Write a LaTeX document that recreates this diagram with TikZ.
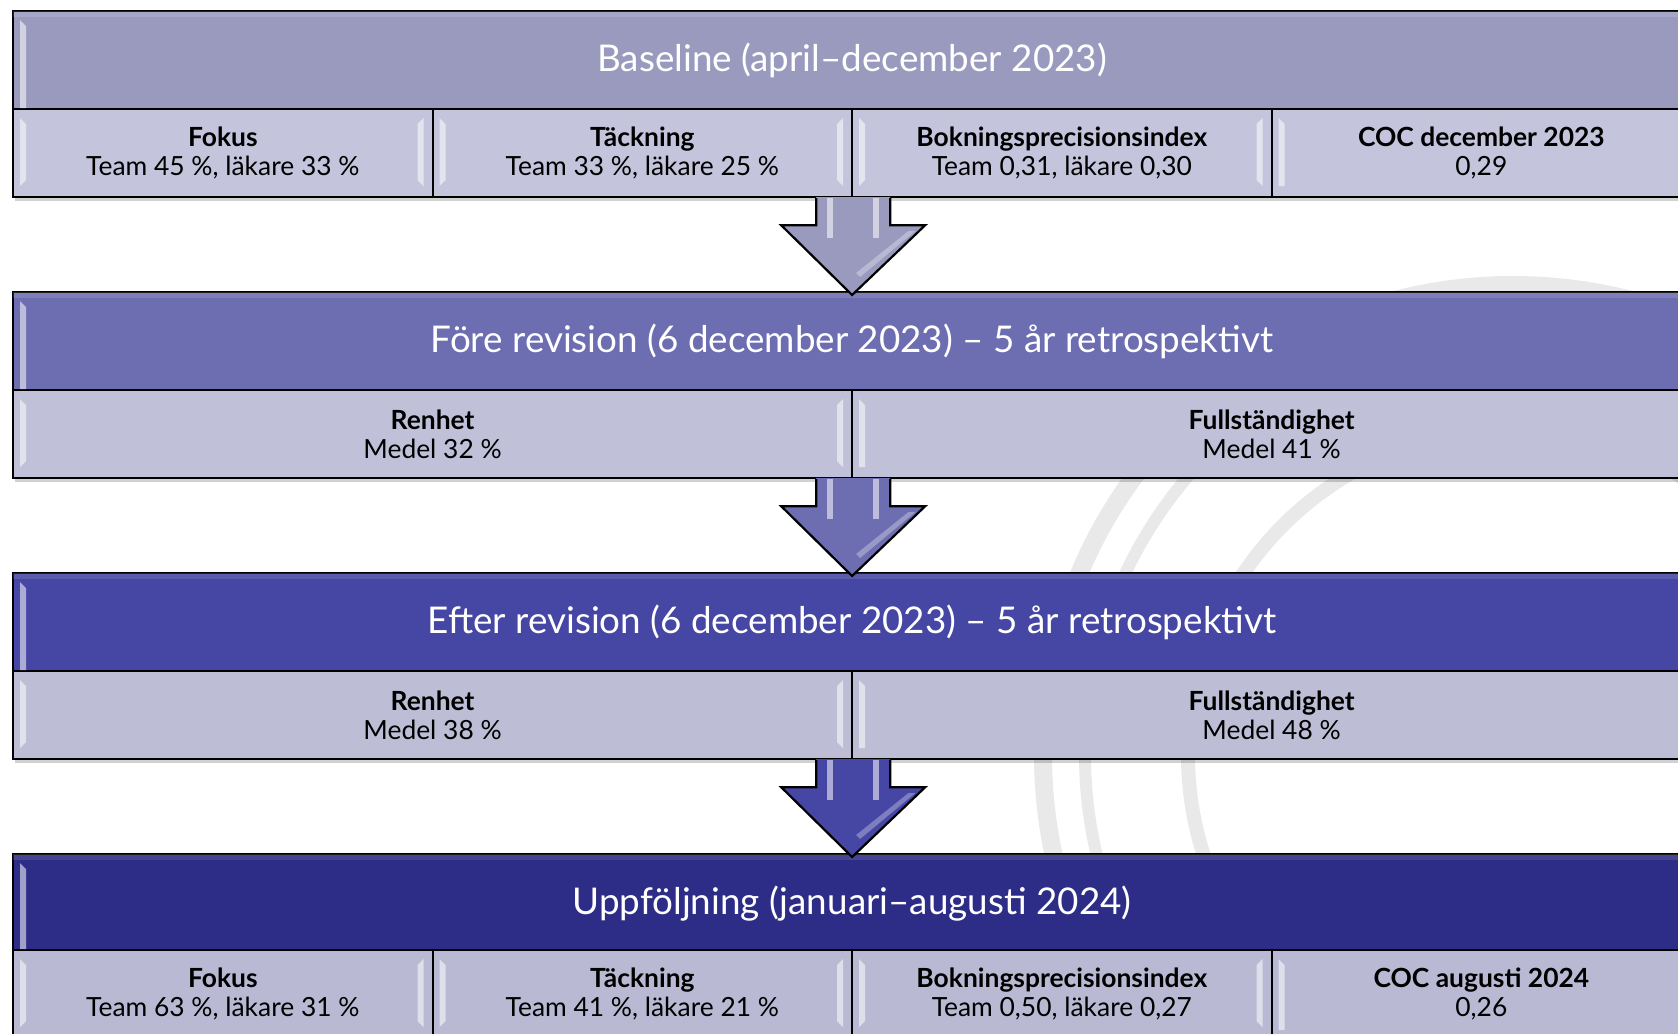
\documentclass[tikz,border=0pt]{standalone}
\usepackage{fontspec}
\setmainfont{Lato}
\usetikzlibrary{calc}
\definecolor{hA}{HTML}{9A9ABF}
\definecolor{hB}{HTML}{6D6DB1}
\definecolor{hC}{HTML}{4646A5}
\definecolor{hD}{HTML}{2D2D87}
\definecolor{cellA}{HTML}{C4C4DC}
\definecolor{cellB}{HTML}{C0C0D9}
\definecolor{cellC}{HTML}{BDBDD6}
\definecolor{cellD}{HTML}{B9B9D3}
\definecolor{seal}{HTML}{E9E9E9}
\tikzset{
  hdr/.style={draw=black, line width=1.1pt, text=white, anchor=north west, inner sep=0pt,
    minimum width=839pt, minimum height=49pt, font=\fontsize{18.4}{22}\selectfont},
  cellq/.style={draw=black, line width=1.1pt, text=black, anchor=north west, inner sep=0pt,
    minimum width=209.75pt, minimum height=44pt, align=center, font=\fontsize{13.2}{14.5}\selectfont},
  cellh/.style={cellq, minimum width=419.5pt},
  shadowbox/.style={fill=black, opacity=0.18},
  hilite/.style={fill=white, opacity=0.55},
  toplite/.style={fill=white, opacity=0.12},
  arrowline/.style={draw=black, line width=1.1pt, line join=miter},
  sealring/.style={draw=seal},
}
\newcommand{\bevel}[4]{% x-left, y-top, x-right, y-bottom : left and right highlights
  \fill[hilite] (#1+8,#2+10) -- (#1+14,#2+16) -- (#1+14,#4-16) -- (#1+8,#4-10) -- cycle;
  \fill[hilite] (#3-8,#2+10) -- (#3-14,#2+16) -- (#3-14,#4-16) -- (#3-8,#4-10) -- cycle;}
\newcommand{\lbevel}[3]{% x-left, y-top, y-bottom
  \fill[hilite] (#1+8,#2+10) -- (#1+14,#2+16) -- (#1+14,#3) -- (#1+8,#3) -- cycle;}
\begin{document}
\begin{tikzpicture}[x=0.5pt,y=-0.5pt]
\useasboundingbox (0,0) rectangle (1678,1034);
\clip (0,0) rectangle (1678,1034);
\fill[white] (0,0) rectangle (1678,1034);

% faint seal watermark
\draw[sealring, line width=9pt] (1513,755) circle [radius=470];
\draw[sealring, line width=6pt] (1513,755) circle [radius=428];
\draw[sealring, line width=7pt] (1513,755) circle [radius=325];

% shadows
\foreach \t in {10,291,572,853} {\fill[shadowbox] (15,\t+4) rectangle (1700,\t+191);}

% ---------- Row 1 ----------
\node[hdr, fill=hA] (h1) at (12,10) {Baseline (april–december 2023)};
\node[cellq, fill=cellA] (c11) at (12,108) {\textbf{Fokus}\\Team 45~\%, läkare 33~\%};
\node[cellq, fill=cellA] (c12) at (431.5,108) {\textbf{Täckning}\\Team 33~\%, läkare 25~\%};
\node[cellq, fill=cellA] (c13) at (851,108) {\textbf{Bokningsprecisionsindex}\\Team 0,31, läkare 0,30};
\node[cellq, fill=cellA] (c14) at (1270.5,108) {\textbf{COC december 2023}\\0,29};
\fill[toplite] (13,11) rectangle (1690,17);
\lbevel{12}{10}{108}
\bevel{12}{108}{431.5}{196}\bevel{431.5}{108}{851}{196}\bevel{851}{108}{1270.5}{196}\lbevel{1270.5}{108}{186}

% ---------- Row 2 ----------
\node[hdr, fill=hB] (h2) at (12,291) {Före revision (6 december 2023) – 5 år retrospektivt};
\node[cellh, fill=cellB] (c21) at (12,389) {\textbf{Renhet}\\Medel 32~\%};
\node[cellh, fill=cellB] (c22) at (851,389) {\textbf{Fullständighet}\\Medel 41~\%};
\fill[toplite] (13,292) rectangle (1690,298);
\lbevel{12}{291}{389}
\bevel{12}{389}{851}{477}\lbevel{851}{389}{467}

% ---------- Row 3 ----------
\node[hdr, fill=hC] (h3) at (12,572) {Efter revision (6 december 2023) – 5 år retrospektivt};
\node[cellh, fill=cellC] (c31) at (12,670) {\textbf{Renhet}\\Medel 38~\%};
\node[cellh, fill=cellC] (c32) at (851,670) {\textbf{Fullständighet}\\Medel 48~\%};
\fill[toplite] (13,573) rectangle (1690,579);
\lbevel{12}{572}{670}
\bevel{12}{670}{851}{758}\lbevel{851}{670}{748}

% ---------- Row 4 ----------
\node[hdr, fill=hD] (h4) at (12,853) {Uppföljning (januari–augusti 2024)};
\node[cellq, fill=cellD] (c41) at (12,949) {\textbf{Fokus}\\Team 63~\%, läkare 31~\%};
\node[cellq, fill=cellD] (c42) at (431.5,949) {\textbf{Täckning}\\Team 41~\%, läkare 21~\%};
\node[cellq, fill=cellD] (c43) at (851,949) {\textbf{Bokningsprecisionsindex}\\Team 0,50, läkare 0,27};
\node[cellq, fill=cellD] (c44) at (1270.5,949) {\textbf{COC augusti 2024}\\0,26};
\fill[toplite] (13,854) rectangle (1690,860);
\lbevel{12}{853}{949}
\bevel{12}{949}{431.5}{1037}\bevel{431.5}{949}{851}{1037}\bevel{851}{949}{1270.5}{1037}\lbevel{1270.5}{949}{1030}

% ---------- Arrows ----------
\foreach \s/\t/\col in {c12.south east/h2.north/hA, c21.south east/h3.north/hB, c31.south east/h4.north/hC} {
  \path (\s) coordinate (as) (\t) coordinate (at);
  \fill[\col] ($(as)+(-37,-1)$) -- ($(as)+(-37,27)$) -- ($(as)+(-72,27)$) -- ($(at)+(0,4)$)
     -- ($(as)+(72,27)$) -- ($(as)+(37,27)$) -- ($(as)+(37,-1)$) -- cycle;
  \fill[hilite] ($(as)+(-26,0)$) rectangle ($(as)+(-20,40)$);
  \fill[hilite] ($(as)+(20,0)$) rectangle ($(as)+(26,40)$);
  \fill[white, opacity=0.3] ($(as)+(55,33)$) -- ($(as)+(62,33)$) -- ($(at)+(8,-14)$) -- ($(at)+(4,-18)$) -- cycle;
  \draw[arrowline] ($(as)+(-37,0)$) -- ($(as)+(-37,27)$) -- ($(as)+(-72,27)$) -- ($(at)+(0,4)$)
     -- ($(as)+(72,27)$) -- ($(as)+(37,27)$) -- ($(as)+(37,0)$);
}
\end{tikzpicture}
\end{document}
